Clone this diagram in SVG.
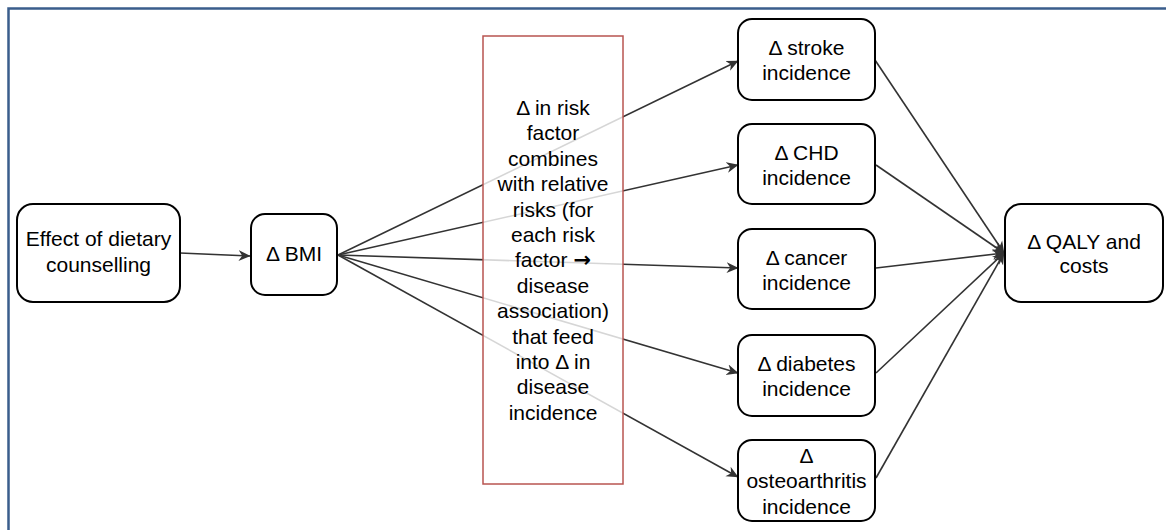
<svg xmlns="http://www.w3.org/2000/svg" width="1166" height="530" viewBox="0 0 1166 530">
<defs>
<marker id="arr" viewBox="0 0 10 10" refX="9.5" refY="5" markerWidth="12" markerHeight="12" markerUnits="userSpaceOnUse" orient="auto">
<path d="M0,0.5 L10,5 L0,9.5 L3,5 z" fill="#333"/>
</marker>
</defs>
<style>
.node rect{fill:#fff;stroke:#000;stroke-width:2}
text{font-family:"Liberation Sans",Arial,sans-serif;font-size:21px;fill:#000;text-anchor:middle}
.conn line{stroke:#333;stroke-width:1.6;marker-end:url(#arr)}
</style>
<rect width="1166" height="530" fill="#fff"/>
<path d="M8.5,530 L8.5,8.5 L1166,8.5" fill="none" stroke="#3a5d8c" stroke-width="2.5"/>
<g id="connectors" class="conn">
<line x1="180" y1="253" x2="250" y2="256"/>
<line x1="338" y1="255" x2="738" y2="61"/>
<line x1="338" y1="255" x2="738" y2="165"/>
<line x1="338" y1="255" x2="738" y2="268"/>
<line x1="338" y1="255" x2="738" y2="373"/>
<line x1="338" y1="255" x2="738" y2="477"/>
<line x1="875" y1="60" x2="1004" y2="253"/>
<line x1="876" y1="165" x2="1004" y2="253"/>
<line x1="876" y1="268" x2="1004" y2="253"/>
<line x1="876" y1="373" x2="1004" y2="253"/>
<line x1="876" y1="478" x2="1004" y2="253"/>
</g>
<g id="riskbox">
<rect x="483" y="36" width="140" height="448" fill="#fff" fill-opacity="0.8" stroke="#b85450" stroke-width="1.5"/>
<text x="553" y="115">Δ in risk</text>
<text x="553" y="140.4">factor</text>
<text x="553" y="165.8">combines</text>
<text x="553" y="191.2">with relative</text>
<text x="553" y="216.6">risks (for</text>
<text x="553" y="242">each risk</text>
<text x="553" y="267.4">factor <tspan font-family="'DejaVu Sans',sans-serif" font-weight="bold">→</tspan></text>
<text x="553" y="292.8">disease</text>
<text x="553" y="318.2">association)</text>
<text x="553" y="343.6">that feed</text>
<text x="553" y="369">into Δ in</text>
<text x="553" y="394.4">disease</text>
<text x="553" y="419.8">incidence</text>
</g>
<g id="effect" class="node">
<rect x="17" y="204" width="163" height="98" rx="16"/>
<text x="98.5" y="246">Effect of dietary</text>
<text x="98.5" y="272">counselling</text>
</g>
<g id="bmi" class="node">
<rect x="251" y="214" width="86" height="81" rx="14"/>
<text x="294" y="261">Δ BMI</text>
</g>
<g id="stroke" class="node">
<rect x="738" y="19" width="137" height="81" rx="14"/>
<text x="806.5" y="55">Δ stroke</text>
<text x="806.5" y="80">incidence</text>
</g>
<g id="chd" class="node">
<rect x="738" y="124" width="137" height="80" rx="14"/>
<text x="806.5" y="160">Δ CHD</text>
<text x="806.5" y="185">incidence</text>
</g>
<g id="cancer" class="node">
<rect x="738" y="229" width="137" height="80" rx="14"/>
<text x="806.5" y="265">Δ cancer</text>
<text x="806.5" y="290">incidence</text>
</g>
<g id="diabetes" class="node">
<rect x="738" y="335" width="137" height="81" rx="14"/>
<text x="806.5" y="370.5">Δ diabetes</text>
<text x="806.5" y="395.5">incidence</text>
</g>
<g id="osteo" class="node">
<rect x="738" y="440" width="137" height="81" rx="14"/>
<text x="806.5" y="463">Δ</text>
<text x="806.5" y="488">osteoarthritis</text>
<text x="806.5" y="514">incidence</text>
</g>
<g id="qaly" class="node">
<rect x="1005" y="204" width="158" height="98" rx="16"/>
<text x="1084" y="249">Δ QALY and</text>
<text x="1084" y="273">costs</text>
</g>
</svg>
